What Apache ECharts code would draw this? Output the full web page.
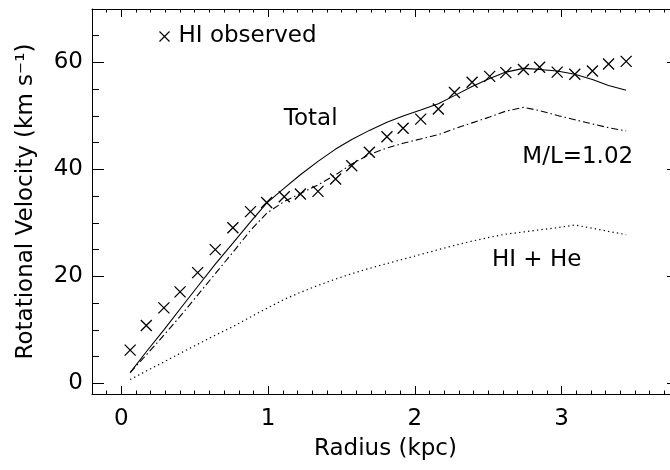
<!DOCTYPE html>
<html>
<head>
<meta charset="utf-8">
<script src="https://cdn.jsdelivr.net/npm/echarts@6/dist/echarts.min.js"></script>
<style>
  html, body { margin: 0; padding: 0; background: #fff; overflow: hidden; }
  /* the plot frame runs a few pixels past the right edge of the window */
  #chart { width: 680px; height: 470px; }
</style>
</head>
<body>
<div id="chart"></div>
<script>
// Rotation curve: observed HI velocities and the mass-model components (kpc, km/s)
const radius = [0.06, 0.17, 0.29, 0.40, 0.52, 0.64, 0.76, 0.88, 0.99, 1.11,
                1.22, 1.34, 1.46, 1.57, 1.69, 1.81, 1.92, 2.04, 2.16, 2.27,
                2.39, 2.51, 2.62, 2.74, 2.85, 2.97, 3.09, 3.21, 3.32, 3.44];
const hiObserved = [6.2, 10.8, 14.1, 17.1, 20.7, 25.0, 29.1, 32.1, 33.8, 34.9,
                    35.4, 35.9, 38.2, 40.7, 43.2, 46.1, 47.7, 49.4, 51.3, 54.4,
                    56.3, 57.4, 58.1, 58.7, 59.1, 58.2, 57.8, 58.4, 59.7, 60.2];
const totalModel = [2.0, 5.9, 10.0, 13.9, 18.1, 22.3, 26.2, 30.2, 33.7, 36.5,
                    39.0, 41.5, 43.8, 45.6, 47.3, 48.8, 50.0, 51.1, 52.3, 53.8,
                    55.5, 57.0, 58.2, 58.9, 58.7, 58.4, 57.8, 56.8, 55.7, 54.8];
const stellarDisk = [2.0, 5.3, 9.0, 12.5, 16.5, 20.5, 24.5, 28.6, 31.8, 34.0,
                     35.5, 37.1, 39.0, 41.0, 42.8, 44.0, 44.9, 45.7, 46.5, 47.6,
                     48.7, 49.8, 50.9, 51.6, 51.0, 50.1, 49.3, 48.5, 47.8, 47.2];
const gasHIHe = [0.7, 2.3, 4.0, 5.6, 7.3, 9.0, 10.6, 12.4, 14.0, 15.7,
                 17.0, 18.3, 19.5, 20.5, 21.5, 22.4, 23.2, 24.1, 25.0, 25.8,
                 26.6, 27.3, 27.9, 28.3, 28.7, 29.1, 29.6, 29.0, 28.4, 27.8];

const xTickLabels = [0, 1, 2, 3];
const yTickLabels = [0, 20, 40, 60];
const xRange = [-0.2, 3.8];
const yRange = [-2, 70];

// minor tick positions: every 0.1 kpc and every 5 km/s
const xMinor = [];
for (let i = -1; i <= 37; i++) { if (i % 10 !== 0) xMinor.push(i / 10); }
const yMinor = [];
for (let v = 5; v <= 65; v += 5) { if (v % 20 !== 0) yMinor.push(v); }

const FONT = 'DejaVu Sans';
const INK = '#000';
const FS = 23;
const textStyle = { fontFamily: FONT, fontSize: FS, color: INK };

function pairs(ys) { return radius.map((r, i) => [r, ys[i]]); }

function xAxisDef(pos, ticks, len, showLine, labels) {
  return {
    type: 'value', position: pos, min: xRange[0], max: xRange[1],
    axisLine: { show: showLine, onZero: false, lineStyle: { color: INK, width: 1 } },
    axisTick: { show: true, inside: true, length: len, customValues: ticks, lineStyle: { color: INK, width: 1 } },
    axisLabel: labels ? { show: true, customValues: ticks, margin: 14, fontFamily: FONT, fontSize: FS, color: INK } : { show: false },
    splitLine: { show: false }
  };
}
function yAxisDef(pos, ticks, len, showLine, labels) {
  return {
    type: 'value', position: pos, min: yRange[0], max: yRange[1],
    axisLine: { show: showLine, onZero: false, lineStyle: { color: INK, width: 1 } },
    axisTick: { show: true, inside: true, length: len, customValues: ticks, lineStyle: { color: INK, width: 1 } },
    axisLabel: labels ? { show: true, customValues: ticks, margin: 9, fontFamily: FONT, fontSize: FS, color: INK } : { show: false },
    splitLine: { show: false }
  };
}

const xAxes = [
  xAxisDef('bottom', xTickLabels, 8, true, true),
  xAxisDef('bottom', xMinor, 3.5, false, false),
  xAxisDef('top', xTickLabels, 8, true, false),
  xAxisDef('top', xMinor, 3.5, false, false)
];
Object.assign(xAxes[0], {
  name: 'Radius (kpc)', nameLocation: 'middle', nameGap: 44,
  nameTextStyle: textStyle
});

const yAxes = [
  yAxisDef('left', yTickLabels, 12, true, true),
  yAxisDef('left', yMinor, 7, false, false),
  yAxisDef('right', yTickLabels, 12, true, false),
  yAxisDef('right', yMinor, 7, false, false)
];
Object.assign(yAxes[0], {
  name: 'Rotational Velocity (km s\u207B\u00B9)', nameLocation: 'middle', nameGap: 54,
  nameRotate: 90, nameTextStyle: textStyle
});

const crossPath = 'path://M0,0L10,10M10,0L0,10';

function annotation(text, coord) {
  return {
    symbol: 'circle', symbolSize: 1, silent: true,
    itemStyle: { color: 'rgba(0,0,0,0)' },
    label: { show: true, position: 'inside', formatter: text, fontFamily: FONT, fontSize: FS, color: INK },
    data: [{ coord: coord }]
  };
}

const chart = echarts.init(document.getElementById('chart'), null, { renderer: 'canvas' });
chart.setOption({
  animation: false,
  backgroundColor: '#fff',
  grid: { left: 92, top: 9, width: 587, height: 385, containLabel: false },
  xAxis: xAxes,
  yAxis: yAxes,
  legend: {
    left: 152, top: 20, data: ['HI observed'],
    icon: crossPath, itemWidth: 10, itemHeight: 10, itemGap: 4,
    itemStyle: { color: 'none', borderColor: INK, borderWidth: 1.2, opacity: 1 },
    textStyle: { fontFamily: FONT, fontSize: FS, color: INK, padding: [0, 0, 0, 4] }
  },
  series: [
    {
      name: 'HI observed', type: 'scatter', data: pairs(hiObserved),
      symbol: crossPath, symbolSize: 11,
      itemStyle: { color: 'none', borderColor: INK, borderWidth: 1.3, opacity: 1 }
    },
    {
      name: 'Total', type: 'line', data: pairs(totalModel), symbol: 'none',
      lineStyle: { color: INK, width: 1.1 },
      markPoint: annotation('Total', [1.29, 49.5])
    },
    {
      name: 'M/L=1.02', type: 'line', data: pairs(stellarDisk), symbol: 'none',
      lineStyle: { color: INK, width: 1.1, type: [7, 3, 1.5, 3] },
      markPoint: annotation('M/L=1.02', [3.11, 42.4])
    },
    {
      name: 'HI + He', type: 'line', data: pairs(gasHIHe), symbol: 'none',
      lineStyle: { color: INK, width: 1.2, type: [1.3, 3.2] },
      markPoint: annotation('HI + He', [2.83, 23.1])
    }
  ]
});
</script>
</body>
</html>
